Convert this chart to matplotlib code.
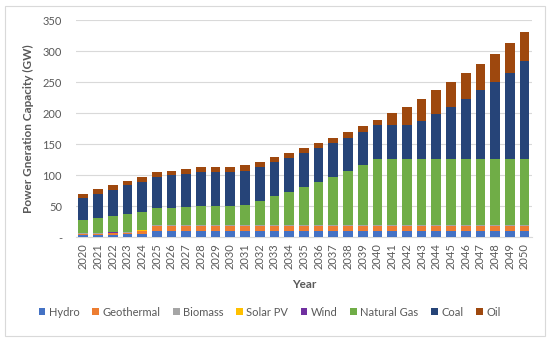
import matplotlib
matplotlib.use("Agg")
import matplotlib.pyplot as plt
from matplotlib.patches import Rectangle
import numpy as np

plt.rcParams["font.family"] = ["Lato", "DejaVu Sans"]

years = list(range(2020, 2051))

# GW
hydro = [4, 4, 4, 5, 6] + [11] * 26
geothermal = [2, 2, 2.5, 3, 4] + [8] * 26
biomass = [1] * 5 + [1.2] * 26
solar_pv = [0.4] * 31
wind = [0.2] * 31
natural_gas = [20.3, 23.3, 26.8, 28.3, 29.3, 26.3, 26.3, 27.8, 29.3, 29.3,
               29.3, 32.3, 38.3, 45.3, 52.3, 60.3, 68.3, 77.3, 86.3, 95.3,
               105.8, 105.8, 105.8, 105.8, 105.8, 105.8, 105.8, 105.8, 105.8, 105.8,
               105.8]
coal = [36, 39, 42, 46, 48.5, 50, 53, 53.5, 55, 55,
        55, 54, 55, 55, 55, 55, 55, 54, 54, 54.7,
        54.5, 54.5, 54.5, 61.5, 72.5, 84.5, 96.5, 110.5, 124.5, 138.5,
        157.5]
oil = [7, 7.7, 8, 7.7, 8.5, 8, 7.8, 8.5, 8, 8,
       8, 9, 7.5, 8, 8, 8, 8, 8.5, 8.6, 8.3,
       8.5, 19, 30, 35, 38, 39, 42, 43, 45, 49,
       48]

series = [
    ("Hydro", hydro, "#4472C4"),
    ("Geothermal", geothermal, "#ED7D31"),
    ("Biomass", biomass, "#A5A5A5"),
    ("Solar PV", solar_pv, "#FFC000"),
    ("Wind", wind, "#7030A0"),
    ("Natural Gas", natural_gas, "#70AD47"),
    ("Coal", coal, "#264478"),
    ("Oil", oil, "#9E480E"),
]

grey = "#595959"

fig = plt.figure(figsize=(5.5, 3.4), dpi=100)
ax = fig.add_axes([0.138, 0.3015, 0.829, 0.6385])

x = np.arange(len(years))
bottom = np.zeros(len(years))
handles = []
for name, vals, color in series:
    vals = np.array(vals, dtype=float)
    b = ax.bar(x, vals, 0.66, bottom=bottom, color=color, label=name,
               linewidth=0, zorder=3)
    handles.append(b)
    bottom += vals

ax.set_xlim(-0.5, len(years) - 0.5)
ax.set_ylim(0, 350)
ax.set_yticks(range(0, 351, 50))
ax.set_yticklabels(["-"] + [str(v) for v in range(50, 351, 50)])
ax.set_xticks(x)
ax.set_xticklabels([str(y) for y in years], rotation=90)
ax.tick_params(axis="both", length=0, colors=grey, labelsize=8)
ax.tick_params(axis="y", pad=10)
ax.tick_params(axis="x", pad=4)
ax.grid(axis="y", color="#D9D9D9", linewidth=0.8, zorder=0)
for s in ["top", "right", "left"]:
    ax.spines[s].set_visible(False)
ax.spines["bottom"].set_color("#D9D9D9")

ax.set_ylabel("Power Gneration Capacity (GW)", color=grey, fontsize=8.5,
              fontweight="bold", labelpad=6)
ax.set_xlabel("Year", color=grey, fontsize=8.5, fontweight="bold", labelpad=7)

leg = fig.legend(handles=handles, loc="center", bbox_to_anchor=(0.49, 0.082),
                 ncol=8, frameon=False, fontsize=8, handlelength=0.6,
                 handleheight=0.6, handletextpad=0.3, columnspacing=1.15)
for t in leg.get_texts():
    t.set_color(grey)

fig.patches.append(Rectangle((5 / 550, 4 / 340), 540 / 550, 330 / 340,
                             transform=fig.transFigure, fill=False,
                             edgecolor="#D9D9D9", linewidth=0.8))

fig.savefig("out.png", dpi=100)
